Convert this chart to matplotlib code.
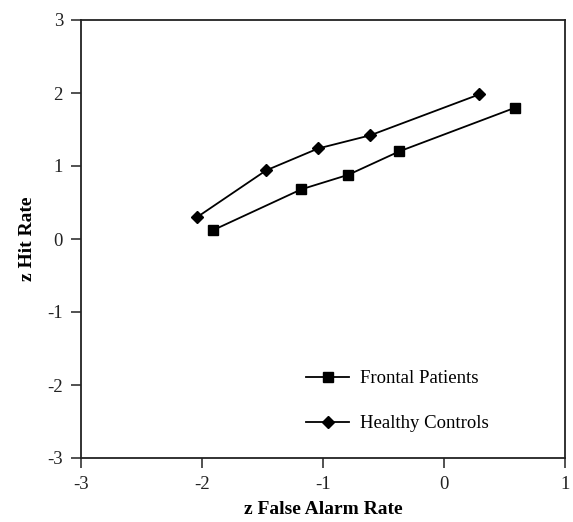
import matplotlib
matplotlib.use("Agg")
import matplotlib.pyplot as plt

plt.rcParams['font.family'] = ['Liberation Serif', 'DejaVu Serif']
plt.rcParams['axes.unicode_minus'] = False

# z-scores
frontal_x = [-1.91, -1.18, -0.79, -0.37, 0.59]
frontal_y = [0.12, 0.68, 0.88, 1.20, 1.80]
healthy_x = [-2.04, -1.47, -1.04, -0.61, 0.29]
healthy_y = [0.30, 0.94, 1.24, 1.42, 1.98]

x_ticks = [-3, -2, -1, 0, 1]
y_ticks = [-3, -2, -1, 0, 1, 2, 3]

fig = plt.figure(figsize=(5.73, 5.22), dpi=100)
ax = fig.add_axes([81 / 573, 64 / 522, 484 / 573, 438 / 522])

ax.plot(frontal_x, frontal_y, '-', color='black', lw=1.3,
        marker='s', ms=7, label='Frontal Patients')
ax.plot(healthy_x, healthy_y, '-', color='black', lw=1.3,
        marker='D', ms=6, label='Healthy Controls')

ax.set_xlim(-3, 1)
ax.set_ylim(-3, 3)
ax.set_xticks(x_ticks)
ax.set_yticks(y_ticks)
ax.tick_params(direction='out', length=7, width=1.2, labelsize=13.5, pad=6,
               colors='#333333', labelcolor='#222222')
for s in ax.spines.values():
    s.set_linewidth(1.3)
    s.set_color('#222222')

ax.set_xlabel('z False Alarm Rate', fontsize=14, fontweight='bold', labelpad=6)
ax.set_ylabel('z Hit Rate', fontsize=14, fontweight='bold', labelpad=8)

ax.legend(loc='lower left', bbox_to_anchor=(0.43, 0.02), frameon=False,
          fontsize=13.5, labelspacing=1.5, handlelength=2.3, handletextpad=0.6)

fig.savefig('out.png', dpi=100)
plt.close(fig)
